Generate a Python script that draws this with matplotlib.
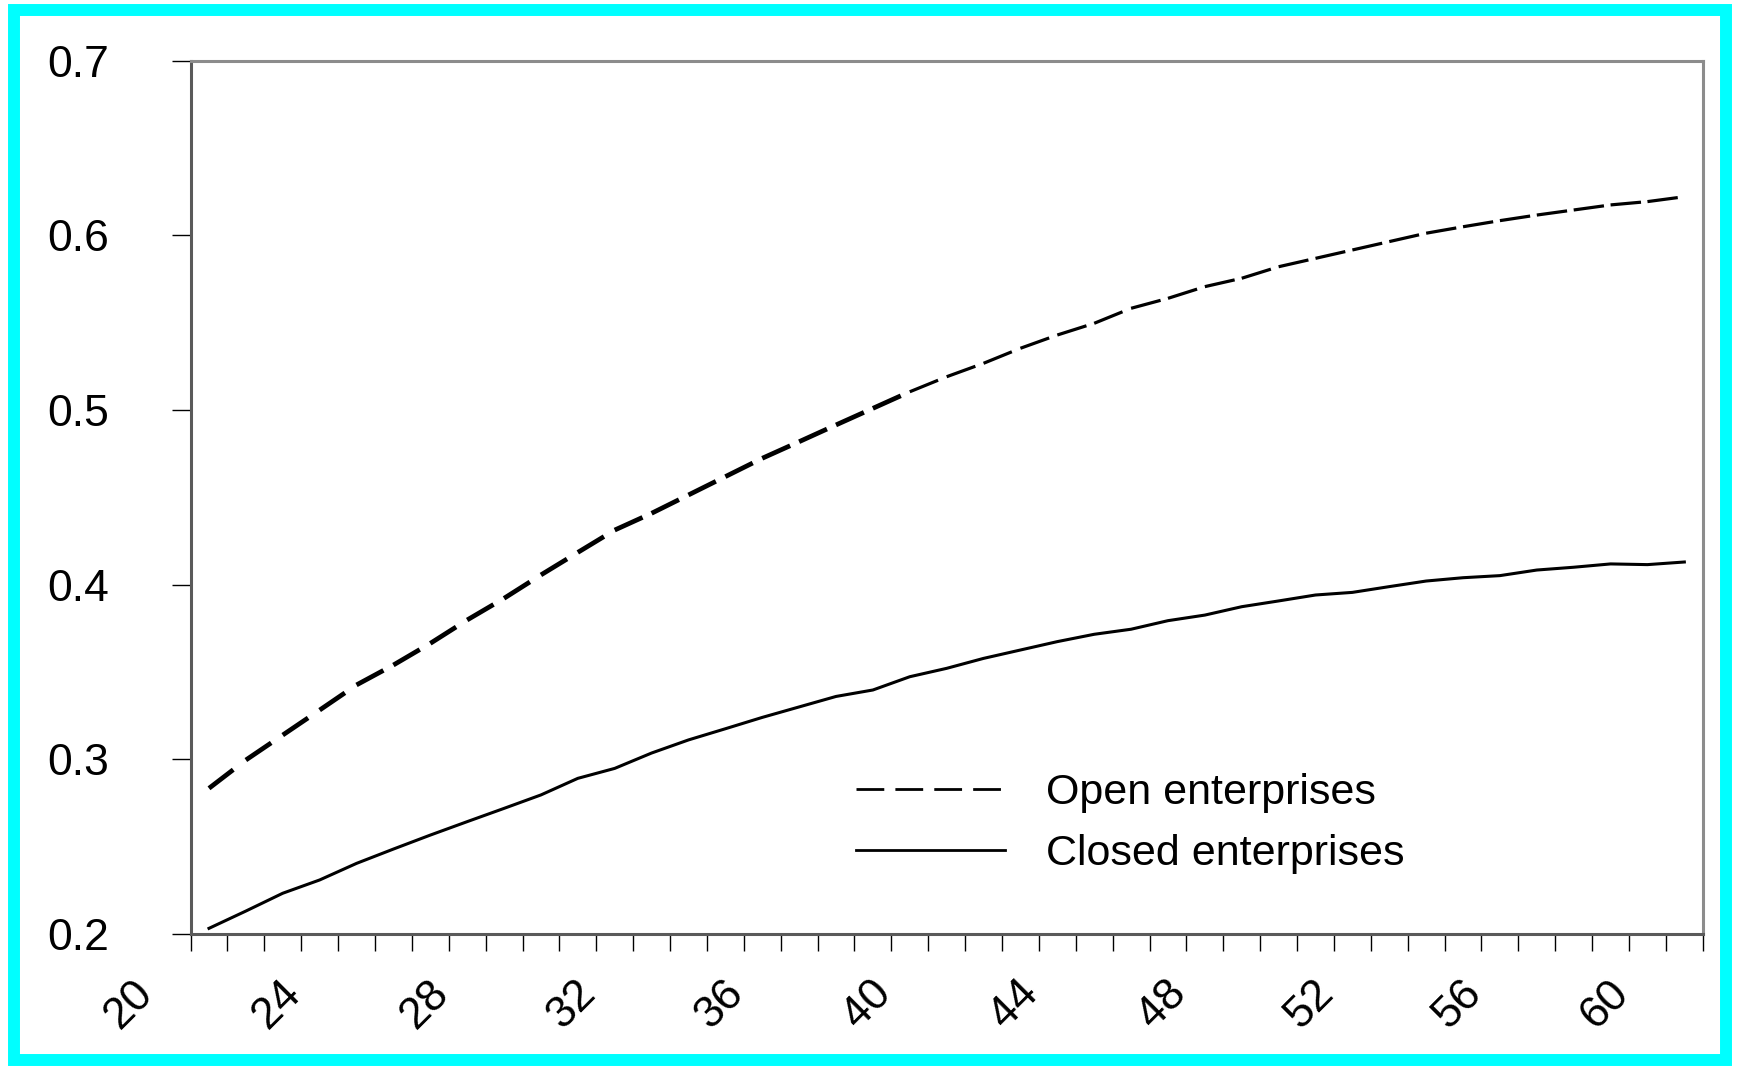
import numpy as np
import matplotlib
matplotlib.use('Agg')
import matplotlib.pyplot as plt
from matplotlib.collections import LineCollection
from matplotlib.lines import Line2D
from matplotlib.patches import Rectangle
import matplotlib.transforms as mtransforms

plt.rcParams['font.family'] = ['Liberation Sans', 'DejaVu Sans']
plt.rcParams['lines.scale_dashes'] = False

# ---------------- data ----------------
categories = list(range(41))  # category index (one per year)
open_ent = [0.2834, 0.2996, 0.3139, 0.3282, 0.3426, 0.3540, 0.3664, 0.3798, 0.3922, 0.4056,
            0.4185, 0.4313, 0.4409, 0.4514, 0.4619, 0.4724, 0.4819, 0.4915, 0.5010, 0.5105,
            0.5191, 0.5268, 0.5354, 0.5430, 0.5497, 0.5583, 0.5640, 0.5707, 0.5755, 0.5821,
            0.5869, 0.5917, 0.5965, 0.6013, 0.6050, 0.6085, 0.6117, 0.6146, 0.6175, 0.6194,
            0.6222]
closed_ent = [0.2032, 0.2131, 0.2233, 0.2309, 0.2404, 0.2486, 0.2566, 0.2643, 0.2719, 0.2796,
              0.2891, 0.2948, 0.3036, 0.3111, 0.3175, 0.3240, 0.3300, 0.3360, 0.3397, 0.3473,
              0.3521, 0.3578, 0.3626, 0.3674, 0.3716, 0.3745, 0.3794, 0.3826, 0.3874, 0.3907,
              0.3941, 0.3956, 0.3989, 0.4021, 0.4040, 0.4052, 0.4084, 0.4100, 0.4119, 0.4115,
              0.4130]
x_tick_labels = ['20', '24', '28', '32', '36', '40', '44', '48', '52', '56', '60']
y_ticks = [0.2, 0.3, 0.4, 0.5, 0.6, 0.7]
y_tick_labels = ['0.2', '0.3', '0.4', '0.5', '0.6', '0.7']
series_labels = ['Open enterprises', 'Closed enterprises']

# ---------------- figure ----------------
W, H = 1737, 1066
fig = plt.figure(figsize=(W / 100, H / 100), dpi=100)
fig.patch.set_facecolor('white')

ax = fig.add_axes([0.1097, 0.1239, 0.8706, 0.8190])
ax.set_xlim(-0.5, len(categories) - 0.5)
ax.set_ylim(0.2, 0.7)

# Open enterprises: dashed, one dash per segment
x = np.array(categories, dtype=float)
yo = np.array(open_ent)
pts = np.column_stack([x, yo])
segs = np.stack([pts[:-1], pts[1:]], axis=1)
widths = [3.4 if i < 19 else 2.3 for i in range(len(segs))]
lc = LineCollection(segs, colors='black', linewidths=widths,
                    linestyles=[(0, (22, 200))], capstyle='butt', zorder=3)
ax.add_collection(lc)

# Closed enterprises: solid
ax.plot(x, closed_ent, color='black', lw=2.2, solid_joinstyle='round', zorder=3)

# ---------------- axes styling ----------------
for side in ['top', 'right']:
    ax.spines[side].set_color('#8c8c8c')
    ax.spines[side].set_linewidth(2.2)
for side in ['left', 'bottom']:
    ax.spines[side].set_color('#5a5a5a')
    ax.spines[side].set_linewidth(2.2)

ax.set_yticks(y_ticks)
ax.set_yticklabels(y_tick_labels)
ax.tick_params(axis='y', which='major', direction='out', length=13.7, width=1.0,
               color='black', labelsize=32, pad=45)

major_x = [-0.5 + 4 * k for k in range(len(x_tick_labels))]
ax.set_xticks(major_x)
ax.set_xticklabels(x_tick_labels, rotation=45, ha='center', va='top')
ax.set_xticks(np.arange(-0.5, len(categories), 1.0), minor=True)
ax.tick_params(axis='x', which='both', direction='out', length=12, width=1.0,
               color='black', labelsize=32, pad=16)
shift = mtransforms.ScaledTranslation(-0.61, 0, fig.dpi_scale_trans)
for lab in ax.get_xticklabels():
    lab.set_transform(lab.get_transform() + shift)

# ---------------- legend ----------------
handles = [Line2D([], [], color='black', lw=2.0, dashes=(20, 8)),
           Line2D([], [], color='black', lw=2.0)]
ax.legend(handles, series_labels, loc='center left', bbox_to_anchor=(0.440, 0.1265),
          frameon=False, fontsize=31, handlelength=3.47, handletextpad=0.95,
          labelspacing=0.47, borderpad=0, borderaxespad=0)

# ---------------- cyan frame ----------------
frame = Rectangle((14 / W, 1 - 1060 / H), 1712 / W, (1060 - 9.7) / H,
                  transform=fig.transFigure, fill=False, edgecolor='#00ffff',
                  linewidth=8.6, joinstyle='miter')
fig.patches.append(frame)

fig.savefig('out.png', dpi=100)
